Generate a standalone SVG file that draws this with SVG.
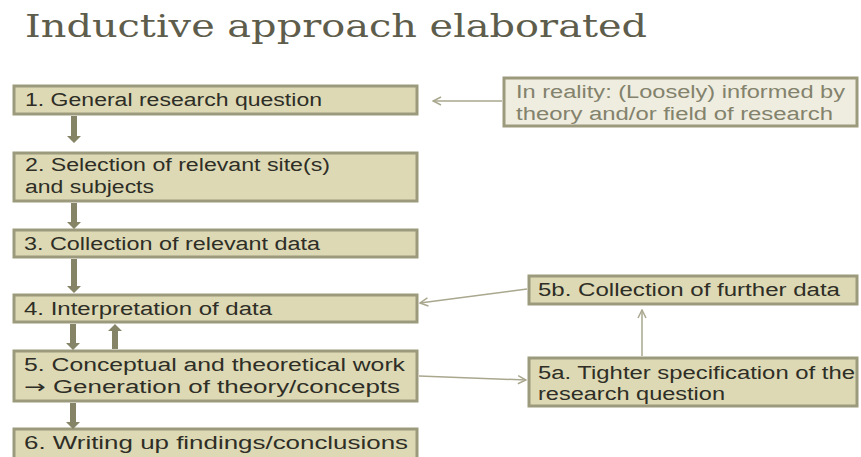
<svg xmlns="http://www.w3.org/2000/svg" width="861" height="457" viewBox="0 0 861 457">
  <style>
    .title { font-family: "DejaVu Serif", "Liberation Serif", serif; font-size: 31px; fill: #5e5d4c; }
    .step rect { fill: #ddd9b5; stroke: #9c9a7c; stroke-width: 3; }
    .note rect { fill: #efede0; stroke: #9c9a7c; stroke-width: 3; }
    .lbl { font-family: "Liberation Sans", Arial, sans-serif; font-size: 18px; fill: #2e2e26; }
    .note .lbl { fill: #83826c; }
    .sym { font-family: "DejaVu Sans", sans-serif; }
    .block { fill: #858466; }
    .thin { stroke: #a9a78e; stroke-width: 1.5; fill: none; marker-end: url(#chev); }
  </style>
  <defs>
    <marker id="chev" viewBox="0 0 10 10" refX="9" refY="5" markerWidth="10" markerHeight="10" markerUnits="userSpaceOnUse" orient="auto">
      <path d="M1,1 L9,5 L1,9" fill="none" stroke="#a9a78e" stroke-width="1.5"/>
    </marker>
  </defs>

  <rect width="861" height="457" fill="#ffffff"/>

  <text class="title" x="25" y="37" textLength="622" lengthAdjust="spacingAndGlyphs">Inductive approach elaborated</text>

  <!-- main sequence of steps -->
  <g id="step1" class="step">
    <rect x="14" y="86" width="403" height="28"/>
    <text class="lbl" x="25" y="106" textLength="297" lengthAdjust="spacingAndGlyphs">1. General research question</text>
  </g>
  <g id="step2" class="step">
    <rect x="14" y="153" width="403" height="48"/>
    <text class="lbl" x="25" y="171" textLength="305" lengthAdjust="spacingAndGlyphs">2. Selection of relevant site(s)</text>
    <text class="lbl" x="25" y="193" textLength="129" lengthAdjust="spacingAndGlyphs">and subjects</text>
  </g>
  <g id="step3" class="step">
    <rect x="14" y="230" width="403" height="27"/>
    <text class="lbl" x="24" y="250" textLength="296" lengthAdjust="spacingAndGlyphs">3. Collection of relevant data</text>
  </g>
  <g id="step4" class="step">
    <rect x="14" y="295" width="403" height="27"/>
    <text class="lbl" x="24" y="315" textLength="248" lengthAdjust="spacingAndGlyphs">4. Interpretation of data</text>
  </g>
  <g id="step5" class="step">
    <rect x="14" y="351" width="403" height="50"/>
    <text class="lbl" x="24" y="371" textLength="381" lengthAdjust="spacingAndGlyphs">5. Conceptual and theoretical work</text>
    <text class="lbl" x="24" y="393" textLength="376" lengthAdjust="spacingAndGlyphs"><tspan class="sym">→</tspan> Generation of theory/concepts</text>
  </g>
  <g id="step6" class="step">
    <rect x="14" y="429" width="403" height="40"/>
    <text class="lbl" x="24" y="449" textLength="384" lengthAdjust="spacingAndGlyphs">6. Writing up findings/conclusions</text>
  </g>

  <!-- side notes -->
  <g id="reality" class="note">
    <rect x="504" y="78" width="353" height="48"/>
    <text class="lbl" x="516" y="98" textLength="329" lengthAdjust="spacingAndGlyphs">In reality: (Loosely) informed by</text>
    <text class="lbl" x="516" y="120" textLength="317" lengthAdjust="spacingAndGlyphs">theory and/or field of research</text>
  </g>
  <g id="step5b" class="step">
    <rect x="529" y="276" width="328" height="28"/>
    <text class="lbl" x="538" y="296" textLength="302" lengthAdjust="spacingAndGlyphs">5b. Collection of further data</text>
  </g>
  <g id="step5a" class="step">
    <rect x="529" y="358" width="328" height="48"/>
    <text class="lbl" x="538" y="379" textLength="317" lengthAdjust="spacingAndGlyphs">5a. Tighter specification of the</text>
    <text class="lbl" x="538" y="400" textLength="187" lengthAdjust="spacingAndGlyphs">research question</text>
  </g>

  <g id="connectors">
    <!-- block arrows between steps -->
    <path class="block" d="M71,116 h6 v20 h4 l-7,7 l-7,-7 h4 z"/>
    <path class="block" d="M71,203 h6 v19 h4 l-7,7 l-7,-7 h4 z"/>
    <path class="block" d="M71,259 h6 v27 h4 l-7,7 l-7,-7 h4 z"/>
    <path class="block" d="M70,324 h6 v19 h4 l-7,7 l-7,-7 h4 z"/>
    <path class="block" d="M112,349 h6 v-18 h4 l-7,-7 l-7,7 h4 z"/>
    <path class="block" d="M70,403 h6 v19 h4 l-7,7 l-7,-7 h4 z"/>
    <!-- thin feedback arrows -->
    <line class="thin" x1="502" y1="101" x2="433" y2="101"/>
    <line class="thin" x1="527" y1="289" x2="420" y2="303"/>
    <line class="thin" x1="642" y1="356" x2="642" y2="310"/>
    <line class="thin" x1="419" y1="376" x2="526" y2="380"/>
  </g>
</svg>
